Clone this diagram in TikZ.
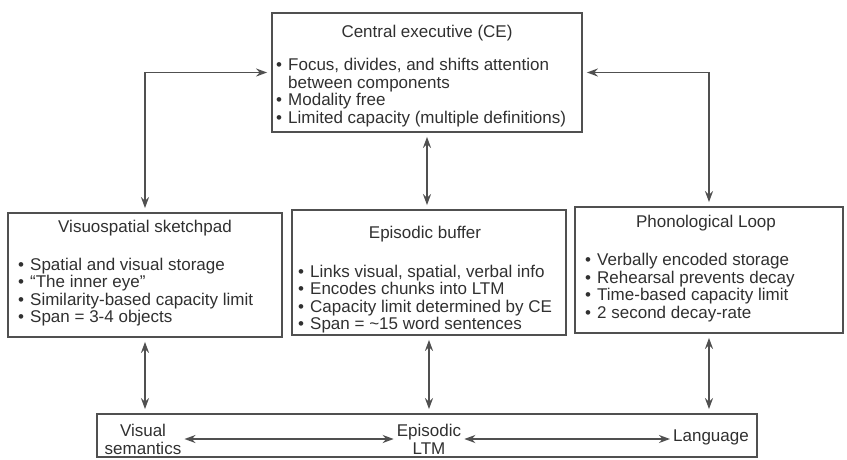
\documentclass[tikz,border=0pt]{standalone}
\usepackage{fontspec}
\setmainfont{Liberation Sans}
\usetikzlibrary{arrows.meta}
\definecolor{ln}{HTML}{505050}
\definecolor{tx}{HTML}{303030}
\newcommand{\bl}{\makebox[12pt][l]{•}}
\tikzset{
  box/.style={draw=ln, line width=1.8pt, rectangle, inner sep=0pt},
  ttl/.style={text=tx, inner sep=0pt, font=\fontsize{17}{17.6}\selectfont},
  lst/.style={text=tx, inner sep=0pt, align=left, font=\fontsize{17}{17.6}\selectfont},
  lbl/.style={text=tx, inner sep=3pt, align=center, font=\fontsize{17}{18}\selectfont},
  con/.style={draw=ln, line width=1.8pt, {Stealth[length=11pt,width=8pt]}-{Stealth[length=11pt,width=8pt]}, shorten >=4pt, shorten <=4pt},
  icon/.style={draw=ln, line width=1.8pt, {Stealth[length=11pt,width=8pt]}-{Stealth[length=11pt,width=8pt]}}
}
\begin{document}
\begin{tikzpicture}[x=1pt,y=-1pt]
\useasboundingbox (0,0) rectangle (847,459);
% boxes
\node[box, minimum width=310pt, minimum height=119pt] (ce) at (427,72.5) {};
\node[box, minimum width=274pt, minimum height=124pt] (vs) at (145,275) {};
\node[box, minimum width=274pt, minimum height=125pt] (eb) at (429,272.5) {};
\node[box, minimum width=268pt, minimum height=126pt] (pl) at (709,270) {};
\node[box, minimum width=660pt, minimum height=43pt] (bot) at (427,435.5) {};
% CE text (base anchor = baseline of last line)
\node[ttl, anchor=base] (cet) at (427,37.5) {Central executive (CE)};
\node[lst, anchor=base west] (cel) at (276,123.3) {\bl Focus, divides, and shifts attention\\\hphantom{\bl}between components\\\bl Modality free\\\bl Limited capacity (multiple definitions)};
% VS text
\node[ttl, anchor=base] (vst) at (145,232.5) {Visuospatial sketchpad};
\node[lst, anchor=base west] (vsl) at (18,322.8) {\bl Spatial and visual storage\\\bl “The inner eye”\\\bl Similarity-based capacity limit\\\bl Span = 3-4 objects};
% EB text
\node[ttl, anchor=base] (ebt) at (425,238.5) {Episodic buffer};
\node[lst, anchor=base west] (ebl) at (298,329.8) {\bl Links visual, spatial, verbal info\\\bl Encodes chunks into LTM\\\bl Capacity limit determined by CE\\\bl Span = \textasciitilde15 word sentences};
% PL text
\node[ttl, anchor=base] (plt) at (706,227.5) {Phonological Loop};
\node[lst, anchor=base west] (pll) at (585,318.3) {\bl Verbally encoded storage\\\bl Rehearsal prevents decay\\\bl Time-based capacity limit\\\bl 2 second decay-rate};
% bottom labels
\node[lbl] (vsem) at (143,439) {Visual\\semantics};
\node[lbl] (eltm) at (429,439) {Episodic\\LTM};
\node[lbl] (lang) at (711,437) {Language};
% connectors
\draw[con] (ce.west) -| (vs.north);
\draw[con] (ce.east) -| (pl.north);
\draw[con] (ce.south) -- (ce.south |- eb.north);
\draw[con] (vs.south) -- (vs.south |- bot.north);
\draw[con] (eb.south) -- (eb.south |- bot.north);
\draw[con] (pl.south) -- (pl.south |- bot.north);
\draw[icon] (vsem.east) -- (vsem.east -| eltm.west);
\draw[icon] (eltm.east) -- (eltm.east -| lang.west);
\end{tikzpicture}
\end{document}
